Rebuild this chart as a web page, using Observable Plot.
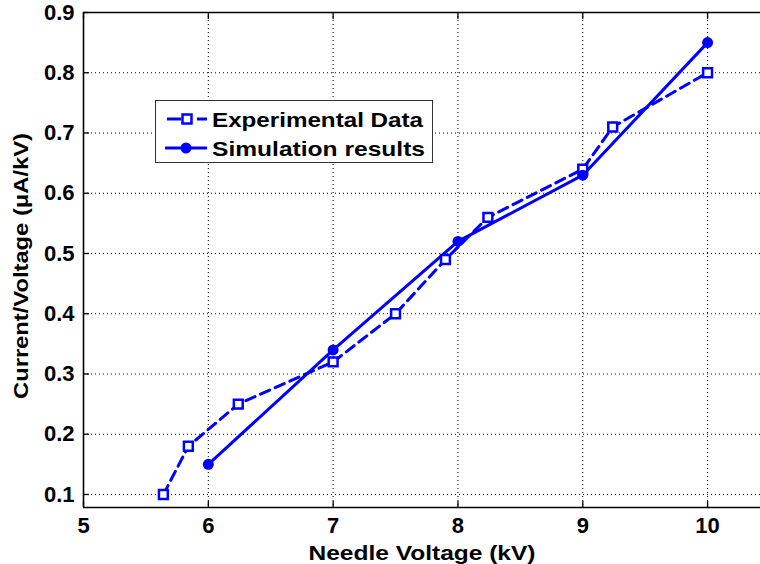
<!DOCTYPE html>
<html><head><meta charset="utf-8">
<script src="https://cdn.jsdelivr.net/npm/d3@7"></script>
<script src="https://cdn.jsdelivr.net/npm/@observablehq/plot@0.6"></script>
<style>
body{margin:0;background:#fff;}
#wrap{position:relative;width:760px;height:564px;font-family:"Liberation Sans",Arial,sans-serif;}
#legend{position:absolute;left:155px;top:100px;}
</style></head>
<body><div id="wrap"></div>
<script>
const expX = [5.64, 5.84, 6.24, 7.0, 7.5, 7.9, 8.24, 9.0, 9.24, 10.0];
const expY = [0.10, 0.18, 0.25, 0.32, 0.40, 0.49, 0.56, 0.64, 0.71, 0.80];
const simX = [6, 7, 8, 9, 10];
const simY = [0.15, 0.34, 0.52, 0.63, 0.85];
const xTicks = [5, 6, 7, 8, 9, 10];
const yTicks = [0.1, 0.2, 0.3, 0.4, 0.5, 0.6, 0.7, 0.8, 0.9];
const xDomain = [5, 10.424];
const yDomain = [0.0784, 0.9];
const seriesNames = ["Experimental Data", "Simulation results"];
const xLabel = "Needle Voltage (kV)";
const yLabel = "Current/Voltage (μA/kV)";
const blue = "#0000ff";

const exp = expX.map((x, i) => ({x, y: expY[i]}));
const sim = simX.map((x, i) => ({x, y: simY[i]}));

const grid = {stroke: "#000", strokeOpacity: 1, strokeDasharray: "1,3", strokeWidth: 1};
const chart = Plot.plot({
  width: 760, height: 564,
  marginLeft: 83, marginRight: 0, marginTop: 12, marginBottom: 57,
  style: {fontFamily: "Liberation Sans, Arial, sans-serif", fontSize: "22px", fontWeight: "bold", color: "#000", background: "#fff"},
  x: {domain: xDomain, ticks: xTicks},
  y: {domain: yDomain, ticks: yTicks},
  marks: [
    Plot.gridX(xTicks, grid),
    Plot.gridY(yTicks, grid),
    Plot.axisX(xTicks, {anchor: "bottom", tickSize: -6, tickPadding: 16, label: null, fontSize: 22, fontWeight: "bold", tickFormat: d => String(d), strokeWidth: 1.3}),
    Plot.axisX(xTicks, {anchor: "top", tickSize: -6, tickFormat: () => "", label: null, strokeWidth: 1.3}),
    Plot.axisY(yTicks, {anchor: "left", tickSize: -6, tickPadding: 15, label: null, fontSize: 22, fontWeight: "bold", tickFormat: d => d.toFixed(1), strokeWidth: 1.3}),
    Plot.ruleX([xDomain[0]], {stroke: "#000", strokeWidth: 1.6}),
    Plot.ruleY([yDomain[0]], {stroke: "#000", strokeWidth: 1.6}),
    Plot.ruleY([yDomain[1]], {stroke: "#000", strokeWidth: 1.3}),
    Plot.line(exp, {x: "x", y: "y", stroke: blue, strokeWidth: 3, strokeDasharray: "10,6"}),
    Plot.line(sim, {x: "x", y: "y", stroke: blue, strokeWidth: 3}),
    Plot.dot(exp, {x: "x", y: "y", symbol: "square", r: 5, stroke: blue, strokeWidth: 2.5, fill: "white"}),
    Plot.dot(sim, {x: "x", y: "y", r: 5.5, fill: blue, stroke: blue, strokeWidth: 0}),
    Plot.text([xLabel], {frameAnchor: "bottom", lineAnchor: "bottom", dy: 52, text: d => d, fontSize: 21, fontWeight: "bold", fill: "#000", className: "xlab"}),
    Plot.text([yLabel], {frameAnchor: "left", textAnchor: "middle", dx: -62, dy: 6, rotate: -90, text: d => d, fontSize: 21, fontWeight: "bold", fill: "#000", className: "ylab"})
  ]
});
const wrap = document.getElementById("wrap");
wrap.appendChild(chart);
const svgSel = d3.select(chart);
svgSel.selectAll("text").attr("font-size", 22).style("font-size", "22px").style("font-weight", "bold");
svgSel.selectAll("g").each(function() { if (this.getAttribute("font-size")) this.setAttribute("font-size", 22); });
// horizontal stretch of the MATLAB-like bold font
svgSel.selectAll(".xlab text").attr("font-size", 21).style("font-size", "21px").attr("textLength", 227).attr("lengthAdjust", "spacingAndGlyphs");
svgSel.selectAll(".ylab text").attr("font-size", 21).style("font-size", "21px").attr("textLength", 266).attr("lengthAdjust", "spacingAndGlyphs");

const lw = 278, lh = 63;
const leg = d3.select(wrap).append("svg").attr("id", "legend").attr("width", lw).attr("height", lh)
  .style("font-family", "Liberation Sans, Arial, sans-serif").style("font-weight", "bold").style("font-size", "21px");
leg.append("rect").attr("x", 0.5).attr("y", 0.5).attr("width", lw - 1).attr("height", lh - 1).attr("fill", "white").attr("stroke", "#333").attr("stroke-width", 1);
const r1 = 19, r2 = 48;
leg.append("line").attr("x1", 12).attr("x2", 26).attr("y1", r1).attr("y2", r1).attr("stroke", blue).attr("stroke-width", 3);
leg.append("line").attr("x1", 42).attr("x2", 52).attr("y1", r1).attr("y2", r1).attr("stroke", blue).attr("stroke-width", 3);
leg.append("rect").attr("x", 27.5).attr("y", r1 - 4.5).attr("width", 9).attr("height", 9).attr("fill", "white").attr("stroke", blue).attr("stroke-width", 2.5);
leg.append("text").attr("x", 57).attr("y", r1).attr("dy", "0.36em").attr("textLength", 211).attr("lengthAdjust", "spacingAndGlyphs").text(seriesNames[0]);
leg.append("line").attr("x1", 10).attr("x2", 52).attr("y1", r2).attr("y2", r2).attr("stroke", blue).attr("stroke-width", 3);
leg.append("circle").attr("cx", 31).attr("cy", r2).attr("r", 5.5).attr("fill", blue);
leg.append("text").attr("x", 57).attr("y", r2).attr("dy", "0.36em").attr("textLength", 213).attr("lengthAdjust", "spacingAndGlyphs").text(seriesNames[1]);
</script></body></html>
